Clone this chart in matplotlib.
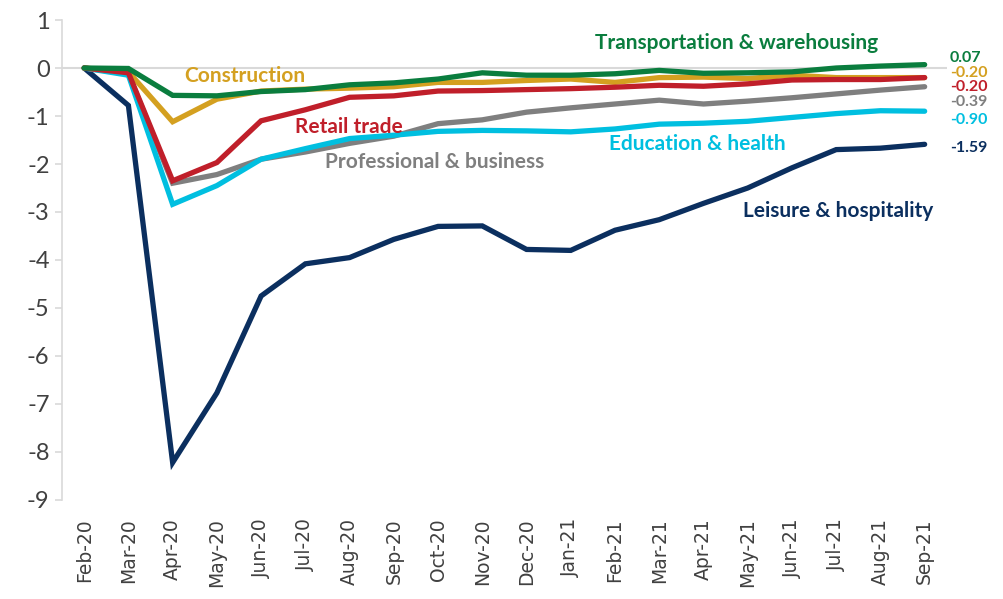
import matplotlib.pyplot as plt
import numpy as np

months = ['Feb-20', 'Mar-20', 'Apr-20', 'May-20', 'Jun-20', 'Jul-20', 'Aug-20', 'Sep-20',
          'Oct-20', 'Nov-20', 'Dec-20', 'Jan-21', 'Feb-21', 'Mar-21', 'Apr-21', 'May-21',
          'Jun-21', 'Jul-21', 'Aug-21', 'Sep-21']

leisure = [0, -0.78, -8.22, -6.77, -4.75, -4.08, -3.95, -3.57, -3.30, -3.29,
           -3.78, -3.80, -3.38, -3.16, -2.82, -2.50, -2.08, -1.70, -1.67, -1.59]
professional = [0, -0.12, -2.40, -2.22, -1.90, -1.75, -1.57, -1.42, -1.16, -1.08,
                -0.92, -0.83, -0.75, -0.67, -0.75, -0.69, -0.62, -0.54, -0.46, -0.39]
education = [0, -0.15, -2.84, -2.45, -1.90, -1.68, -1.47, -1.40, -1.32, -1.30,
             -1.31, -1.33, -1.27, -1.17, -1.15, -1.11, -1.03, -0.95, -0.89, -0.90]
construction = [0, -0.08, -1.12, -0.65, -0.48, -0.44, -0.42, -0.39, -0.30, -0.30,
                -0.26, -0.23, -0.30, -0.20, -0.19, -0.22, -0.15, -0.20, -0.20, -0.20]
retail = [0, -0.10, -2.35, -1.97, -1.10, -0.87, -0.61, -0.58, -0.48, -0.47,
          -0.45, -0.43, -0.40, -0.36, -0.38, -0.33, -0.25, -0.24, -0.24, -0.20]
transport = [0, -0.01, -0.57, -0.58, -0.49, -0.45, -0.35, -0.31, -0.23, -0.10,
             -0.15, -0.15, -0.12, -0.05, -0.11, -0.10, -0.08, 0.00, 0.04, 0.07]

names = ['Leisure & hospitality', 'Professional & business', 'Education & health',
         'Construction', 'Retail trade', 'Transportation & warehousing']
colors = ['#0b2f5f', '#7f7f7f', '#00bfe0', '#d4a020', '#c01f2a', '#0a7d3e']
series = [leisure, professional, education, construction, retail, transport]

# where the series names sit (x index, y value)
name_pos = [(17.04, -2.98), (7.93, -1.96), (13.87, -1.58),
            (3.64, -0.17), (5.99, -1.23), (14.75, 0.52)]
# end-value label heights
end_y = [-1.67, -0.70, -1.09, -0.11, -0.40, 0.21]

fig = plt.figure(figsize=(10.04, 5.99), dpi=100)
ax = fig.add_axes([0.0618, 0.1653, 0.8812, 0.8013])

x = np.arange(len(months))
ax.axhline(0, color='#d9d9d9', lw=1.5, zorder=1)

for s, c, nm, (nx, ny), ey in zip(series, colors, names, name_pos, end_y):
    ax.plot(x, s, color=c, lw=3.8, solid_capstyle='round', solid_joinstyle='miter', zorder=3)
    ax.text(nx, ny, nm, color=c, fontsize=15, fontweight='bold', family='Lato',
            ha='center', va='center')
    ax.text(19.57, ey, f'{s[-1]:.2f}', color=c, fontsize=11.5, fontweight='bold',
            family='Lato', ha='left', va='center')

ax.set_xlim(-0.5, 19.5)
ax.set_ylim(-9, 1)
ax.set_yticks(range(-9, 2))
ax.set_yticklabels([str(v) for v in range(-9, 2)], family='Lato', fontsize=17, color='#404040')
ax.set_xticks(x)
ax.set_xticklabels(months, rotation=90, fontsize=13.5, color='#404040')
ax.tick_params(axis='x', length=0, pad=13)
ax.tick_params(axis='y', length=5, color='#d9d9d9', width=1.2, pad=4)

for sp in ['top', 'right', 'bottom']:
    ax.spines[sp].set_visible(False)
ax.spines['left'].set_color('#d9d9d9')
ax.spines['left'].set_linewidth(1.2)

plt.savefig('out.png')
